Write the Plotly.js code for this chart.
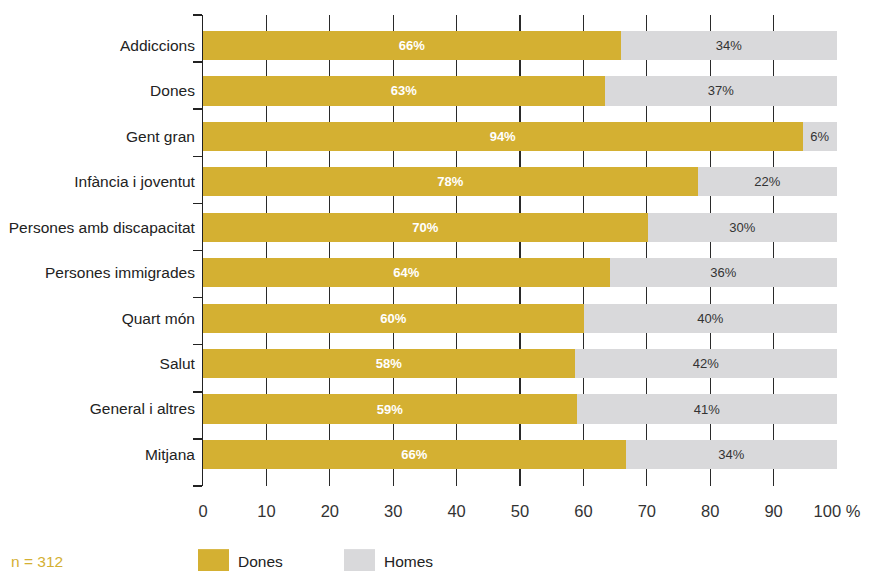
<!DOCTYPE html>
<html>
<head>
<meta charset="utf-8">
<script src="https://cdn.plot.ly/plotly-3.0.1.min.js"></script>
<style>html,body{margin:0;padding:0;background:#fff;}#chart{width:872px;height:571px;}</style>
</head>
<body>
<div id="chart"></div>
<script>
const categories = ["Addiccions","Dones","Gent gran","Infància i joventut","Persones amb discapacitat","Persones immigrades","Quart món","Salut","General i altres","Mitjana"];
const donesValues = [65.9, 63.4, 94.6, 78.1, 70.2, 64.2, 60.1, 58.7, 59.0, 66.7];
const homesValues = [34.1, 36.6, 5.4, 21.9, 29.8, 35.8, 39.9, 41.3, 41.0, 33.3];
const donesLabels = ["66%","63%","94%","78%","70%","64%","60%","58%","59%","66%"];
const homesLabels = ["34%","37%","6%","22%","30%","36%","40%","42%","41%","34%"];
const xTickVals = [0,10,20,30,40,50,60,70,80,90,100];
const xTickText = ["0","10","20","30","40","50","60","70","80","90","100 %"];
const boundaryTicks = [0,1,2,3,4,5,6,7,8,9,10];
const seriesNames = ["Dones","Homes"];
const nText = "n = 312";

const GOLD = "#D4B032";
const GRAY = "#D9D9DB";
const FONT = "Liberation Sans, Arial, sans-serif";

const traces = [
  {type:"bar", orientation:"h", name:seriesNames[0], y:categories, x:donesValues,
   text:donesLabels, texttemplate:"%{text}", textposition:"inside", insidetextanchor:"middle",
   textangle:0, constraintext:"none",
   textfont:{family:FONT, size:13, color:"#ffffff", weight:"bold"},
   marker:{color:GOLD, line:{width:0}}, hoverinfo:"skip"},
  {type:"bar", orientation:"h", name:seriesNames[1], y:categories, x:homesValues,
   text:homesLabels, texttemplate:"%{text}", textposition:"inside", insidetextanchor:"middle",
   textangle:0, constraintext:"none",
   textfont:{family:FONT, size:13, color:"#333333"},
   marker:{color:GRAY, line:{width:0}}, hoverinfo:"skip"},
  {type:"scatter", x:[], y:[], yaxis:"y2", showlegend:false, hoverinfo:"skip"}
];

const layout = {
  width:872, height:571,
  margin:{l:203, r:35, t:15, b:85},
  paper_bgcolor:"#ffffff", plot_bgcolor:"#ffffff",
  barmode:"stack", bargap:0.36,
  showlegend:false,
  font:{family:FONT, color:"#222"},
  xaxis:{range:[0,100], tickvals:xTickVals, ticktext:xTickText,
    showgrid:true, gridcolor:"#2a2a2a", gridwidth:1.3, zeroline:false, showline:false,
    ticks:"outside", ticklen:10, tickcolor:"rgba(0,0,0,0)",
    tickfont:{family:FONT, size:16.5, color:"#333"}, fixedrange:true},
  yaxis:{type:"category", range:[9.694,-0.672], showgrid:false, zeroline:false, showline:false,
    ticks:"outside", ticklen:4, tickcolor:"rgba(0,0,0,0)",
    tickfont:{family:FONT, size:15.5, color:"#222"}, fixedrange:true},
  yaxis2:{overlaying:"y", side:"left", range:[10,0], tickvals:boundaryTicks,
    showticklabels:false, ticks:"outside", ticklen:9, tickwidth:1.5, tickcolor:"#222",
    showline:true, linecolor:"#222", linewidth:1.5, showgrid:false, zeroline:false, fixedrange:true},
  shapes:[
    {type:"rect", xref:"paper", yref:"paper", x0:-0.0079, x1:0.0410, y0:-0.134, y1:-0.19, fillcolor:GOLD, line:{width:0}},
    {type:"rect", xref:"paper", yref:"paper", x0:0.2224, x1:0.2713, y0:-0.134, y1:-0.19, fillcolor:GRAY, line:{width:0}}
  ],
  annotations:[
    {xref:"paper", yref:"paper", x:0.052, y:-0.161, xanchor:"left", yanchor:"middle", showarrow:false, text:seriesNames[0], font:{family:FONT, size:15.5, color:"#222"}},
    {xref:"paper", yref:"paper", x:0.282, y:-0.161, xanchor:"left", yanchor:"middle", showarrow:false, text:seriesNames[1], font:{family:FONT, size:15.5, color:"#222"}},
    {xref:"paper", yref:"paper", x:-0.306, y:-0.16, xanchor:"left", yanchor:"middle", showarrow:false, text:nText, font:{family:FONT, size:15.5, color:GOLD}}
  ]
};

Plotly.newPlot("chart", traces, layout, {displayModeBar:false, staticPlot:true});
</script>
</body>
</html>
